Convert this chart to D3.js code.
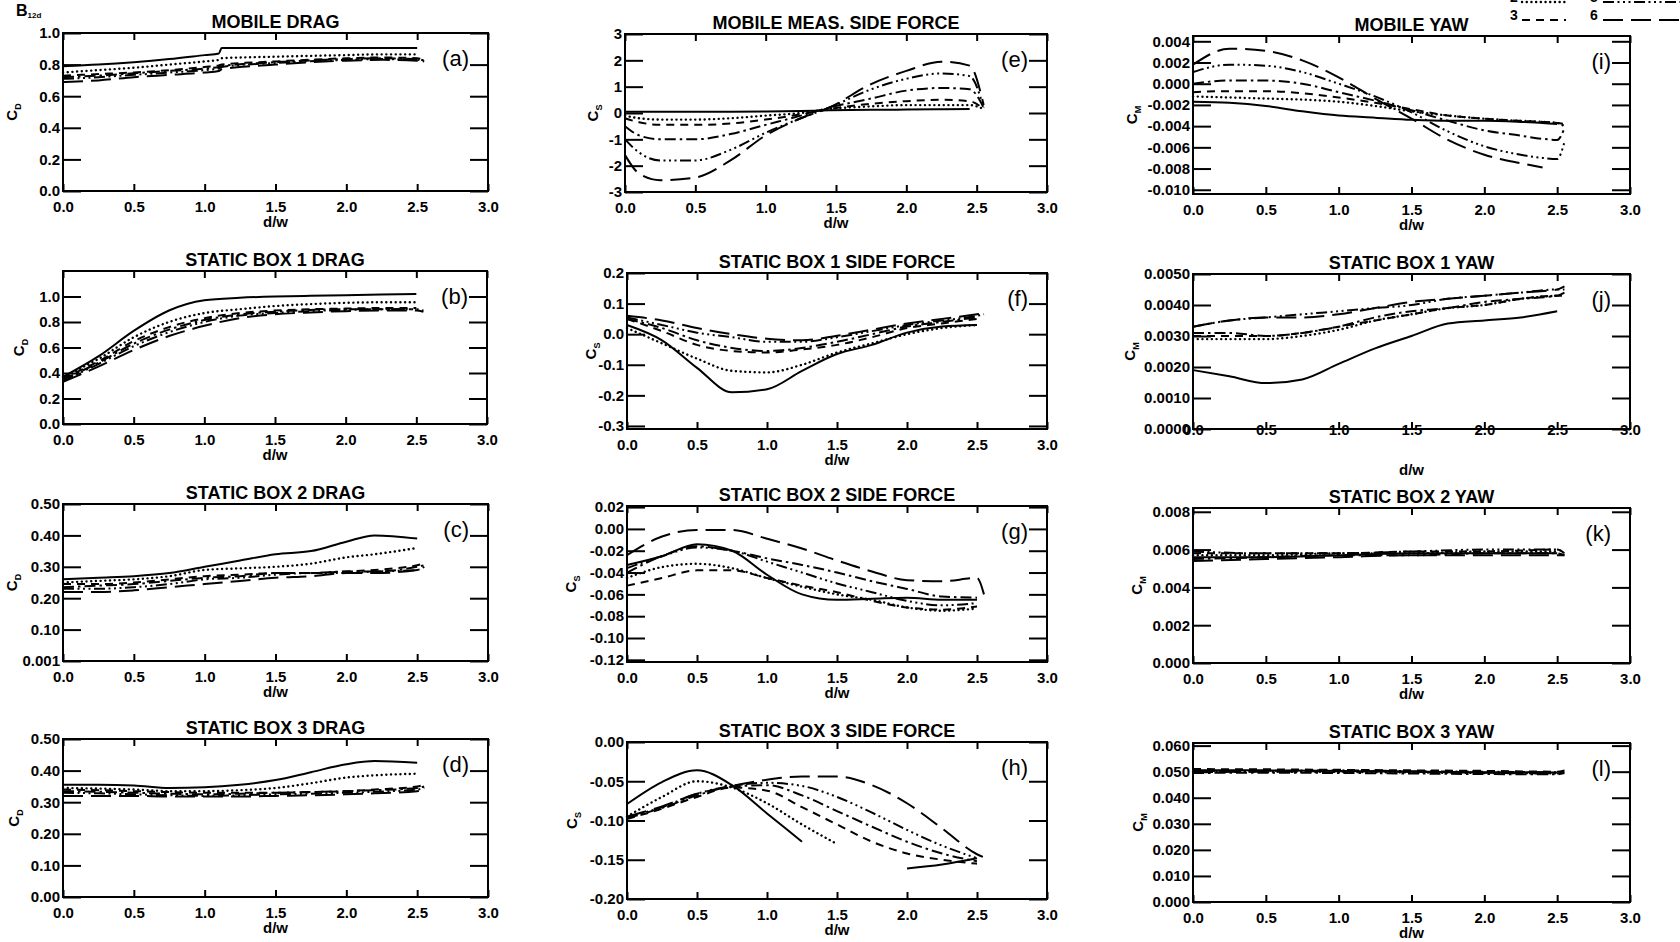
<!DOCTYPE html>
<html><head><meta charset="utf-8">
<script src="https://cdn.jsdelivr.net/npm/d3@7"></script>
<style>
body{margin:0;background:#fff}
svg{display:block}
text{font-family:"Liberation Sans",Arial,Helvetica,sans-serif;fill:#000}
</style>
</head><body>
<svg id="c" width="1680" height="942"></svg>
<script>
// ---------------- DATA ----------------
const dwTicks  = [0, 0.5, 1.0, 1.5, 2.0, 2.5, 3.0];
const dwLabels = ["0.0","0.5","1.0","1.5","2.0","2.5","3.0"];
const seriesNames = ["1","2","3","4","5","6"];

// (a) MOBILE DRAG
const mobileDragX = [0,0.25,0.5,0.75,1.0,1.1,1.12,1.5,2.0,2.25,2.5,2.55];
const mobileDrag = [
  [0.79,0.80,0.815,0.835,0.86,0.87,0.905,0.905,0.905,0.905,0.905,null],
  [0.75,0.765,0.78,0.80,0.82,0.83,0.84,0.85,0.86,0.865,0.865,null],
  [0.73,0.74,0.75,0.765,0.785,0.795,0.80,0.82,0.84,0.845,0.84,0.83],
  [0.72,0.73,0.745,0.76,0.775,0.785,0.79,0.815,0.835,0.84,0.835,0.825],
  [0.71,0.72,0.735,0.75,0.765,0.775,0.785,0.81,0.83,0.835,0.83,0.82],
  [0.69,0.70,0.72,0.735,0.75,0.76,0.77,0.80,0.825,0.83,0.825,0.815]
];
const mobileDragTicks  = [0,0.2,0.4,0.6,0.8,1.0];
const mobileDragLabels = ["0.0","0.2","0.4","0.6","0.8","1.0"];

// (e) MOBILE MEAS. SIDE FORCE
const mobileSideX = [0,0.1,0.25,0.5,0.75,1.0,1.25,1.45,1.75,2.0,2.25,2.45,2.55];
const mobileSide = [
  [0.05,0.05,0.05,0.05,0.05,0.06,0.08,0.1,0.12,0.13,0.14,0.15,null],
  [-0.1,-0.2,-0.25,-0.25,-0.2,-0.1,0.0,0.15,0.25,0.3,0.3,0.3,0.15],
  [-0.2,-0.35,-0.45,-0.45,-0.4,-0.25,-0.05,0.15,0.35,0.45,0.5,0.45,0.15],
  [-0.5,-0.85,-1.0,-1.0,-0.8,-0.45,-0.1,0.2,0.55,0.85,0.95,0.9,0.2],
  [-1.0,-1.5,-1.8,-1.8,-1.4,-0.75,-0.2,0.2,0.9,1.3,1.5,1.4,0.2],
  [-1.6,-2.3,-2.55,-2.45,-1.8,-0.85,-0.2,0.2,1.1,1.6,1.95,1.8,0.3]
];
const mobileSideTicks  = [-3,-2,-1,0,1,2,3];
const mobileSideLabels = ["-3","-2","-1","0","1","2","3"];

// (i) MOBILE YAW
const mobileYawX = [0,0.25,0.5,0.75,1.0,1.25,1.5,1.75,2.0,2.25,2.4,2.5,2.55];
const mobileYaw = [
  [-0.0017,-0.0018,-0.0021,-0.0026,-0.003,-0.0032,-0.0034,-0.0035,-0.0035,-0.0036,-0.0037,-0.0038,null],
  [-0.0012,-0.0013,-0.0014,-0.0015,-0.0017,-0.0021,-0.0026,-0.003,-0.0033,-0.0035,-0.0036,-0.0037,-0.004],
  [-0.0008,-0.0007,-0.0007,-0.0009,-0.0013,-0.0018,-0.0024,-0.003,-0.0033,-0.0035,-0.0036,-0.0037,-0.0038],
  [0.0,0.0003,0.0003,0.0,-0.0008,-0.0016,-0.0025,-0.0035,-0.0044,-0.0049,-0.0052,-0.0053,-0.0042],
  [0.0011,0.0018,0.0017,0.0011,0.0,-0.0012,-0.0027,-0.0045,-0.0059,-0.0067,-0.007,-0.0071,-0.0055],
  [0.0018,0.0033,0.0031,0.0022,0.0006,-0.0014,-0.0033,-0.0053,-0.0067,-0.0075,-0.0079,null,null]
];
const mobileYawTicks  = [-0.010,-0.008,-0.006,-0.004,-0.002,0,0.002,0.004];
const mobileYawLabels = ["-0.010","-0.008","-0.006","-0.004","-0.002","0.000","0.002","0.004"];

// (b) STATIC BOX 1 DRAG
const box1DragX = [0,0.25,0.5,0.75,1.0,1.25,1.5,1.75,2.0,2.25,2.5,2.55];
const box1Drag = [
  [0.37,0.53,0.73,0.89,0.97,0.99,1.0,1.005,1.01,1.015,1.02,null],
  [0.37,0.51,0.68,0.80,0.87,0.90,0.925,0.94,0.95,0.955,0.955,null],
  [0.36,0.49,0.65,0.76,0.83,0.87,0.89,0.90,0.905,0.91,0.91,null],
  [0.35,0.48,0.63,0.74,0.815,0.86,0.88,0.895,0.9,0.9,0.9,null],
  [0.34,0.47,0.61,0.72,0.80,0.85,0.87,0.885,0.895,0.9,0.9,0.89],
  [0.33,0.45,0.58,0.69,0.77,0.83,0.86,0.875,0.885,0.89,0.89,0.88]
];
const box1DragTicks  = [0,0.2,0.4,0.6,0.8,1.0];
const box1DragLabels = ["0.0","0.2","0.4","0.6","0.8","1.0"];

// (f) STATIC BOX 1 SIDE FORCE
const box1SideX = [0,0.25,0.5,0.75,1.0,1.25,1.5,1.75,2.0,2.25,2.5,2.55];
const box1Side = [
  [0.03,-0.02,-0.11,-0.19,-0.18,-0.12,-0.065,-0.035,0.005,0.025,0.03,null],
  [0.02,-0.03,-0.08,-0.12,-0.125,-0.1,-0.06,-0.03,0.0,0.02,0.03,null],
  [0.05,0.01,-0.035,-0.055,-0.06,-0.05,-0.035,-0.01,0.02,0.035,0.05,null],
  [0.05,0.02,-0.02,-0.045,-0.055,-0.045,-0.025,0.0,0.025,0.04,0.055,null],
  [0.055,0.03,0.005,-0.01,-0.025,-0.025,-0.01,0.01,0.03,0.045,0.06,0.065],
  [0.06,0.045,0.02,0.0,-0.015,-0.02,-0.005,0.015,0.035,0.05,0.065,0.068]
];
const box1SideTicks  = [-0.3,-0.2,-0.1,0,0.1,0.2];
const box1SideLabels = ["-0.3","-0.2","-0.1","0.0","0.1","0.2"];

// (j) STATIC BOX 1 YAW
const box1YawX = [0,0.25,0.5,0.75,1.0,1.25,1.5,1.75,2.0,2.25,2.5,2.55];
const box1Yaw = [
  [0.0019,0.0017,0.00148,0.0016,0.0021,0.0026,0.003,0.0034,0.0035,0.0036,0.0038,null],
  [0.0029,0.0029,0.0029,0.003,0.0032,0.0035,0.0037,0.0039,0.004,0.0042,0.0043,null],
  [0.003,0.003,0.003,0.0031,0.0033,0.0035,0.0037,0.0039,0.004,0.0042,0.0043,0.0043],
  [0.0031,0.0031,0.003,0.0031,0.0033,0.0036,0.0038,0.0039,0.0041,0.0042,0.0043,0.0044],
  [0.0033,0.0035,0.0036,0.0037,0.0038,0.0039,0.004,0.0042,0.0043,0.0044,0.0045,0.0045],
  [0.0033,0.0035,0.0036,0.0036,0.0037,0.0039,0.0041,0.0042,0.0043,0.0044,0.0045,0.0046]
];
const box1YawTicks  = [0,0.001,0.002,0.003,0.004,0.005];
const box1YawLabels = ["0.0000","0.0010","0.0020","0.0030","0.0040","0.0050"];

// (c) STATIC BOX 2 DRAG
const box2DragX = [0,0.25,0.5,0.75,1.0,1.25,1.5,1.75,2.0,2.2,2.5,2.55];
const box2Drag = [
  [0.26,0.265,0.27,0.28,0.30,0.32,0.34,0.35,0.38,0.40,0.39,null],
  [0.25,0.255,0.26,0.27,0.29,0.295,0.30,0.31,0.33,0.34,0.36,null],
  [0.245,0.245,0.25,0.26,0.27,0.275,0.28,0.28,0.285,0.29,0.305,0.31],
  [0.235,0.24,0.245,0.255,0.265,0.27,0.28,0.28,0.285,0.285,0.30,0.305],
  [0.23,0.23,0.235,0.245,0.26,0.265,0.275,0.28,0.28,0.285,0.29,0.3],
  [0.22,0.22,0.225,0.235,0.245,0.255,0.265,0.27,0.28,0.28,0.29,0.30]
];
const box2DragTicks  = [0,0.1,0.2,0.3,0.4,0.5];
const box2DragLabels = ["0.001","0.10","0.20","0.30","0.40","0.50"];

// (g) STATIC BOX 2 SIDE FORCE
const box2SideX = [0,0.25,0.5,0.75,1.0,1.25,1.5,1.75,2.0,2.25,2.5,2.55];
const box2Side = [
  [-0.033,-0.025,-0.014,-0.02,-0.042,-0.06,-0.065,-0.064,-0.063,-0.065,-0.065,null],
  [-0.045,-0.035,-0.032,-0.036,-0.045,-0.053,-0.06,-0.065,-0.072,-0.075,-0.073,null],
  [-0.052,-0.045,-0.038,-0.038,-0.045,-0.052,-0.058,-0.066,-0.072,-0.074,-0.071,null],
  [-0.04,-0.025,-0.016,-0.02,-0.027,-0.033,-0.04,-0.048,-0.055,-0.062,-0.063,null],
  [-0.036,-0.025,-0.017,-0.02,-0.03,-0.04,-0.05,-0.058,-0.066,-0.07,-0.068,null],
  [-0.024,-0.007,-0.001,-0.001,-0.009,-0.018,-0.029,-0.039,-0.047,-0.048,-0.045,-0.06]
];
const box2SideTicks  = [-0.12,-0.10,-0.08,-0.06,-0.04,-0.02,0,0.02];
const box2SideLabels = ["-0.12","-0.10","-0.08","-0.06","-0.04","-0.02","0.00","0.02"];

// (k) STATIC BOX 2 YAW
const box2YawX = [0,0.5,1.0,1.5,2.0,2.5,2.55];
const box2Yaw = [
  [0.0056,0.0056,0.0057,0.0058,0.0058,0.0058,null],
  [0.0057,0.0057,0.0058,0.0058,0.0059,0.0059,null],
  [0.0058,0.0058,0.0058,0.0059,0.0059,0.0060,0.0058],
  [0.0055,0.0056,0.0057,0.0057,0.0058,0.0058,0.0057],
  [0.0059,0.0058,0.0058,0.0059,0.006,0.006,0.0058],
  [0.0054,0.0055,0.0056,0.0057,0.0057,0.0057,0.0057]
];
const box2YawTicks  = [0,0.002,0.004,0.006,0.008];
const box2YawLabels = ["0.000","0.002","0.004","0.006","0.008"];

// (d) STATIC BOX 3 DRAG
const box3DragX = [0,0.25,0.5,0.75,1.0,1.25,1.5,1.75,2.0,2.2,2.5,2.55];
const box3Drag = [
  [0.355,0.355,0.353,0.345,0.347,0.355,0.37,0.395,0.42,0.43,0.425,null],
  [0.345,0.343,0.34,0.335,0.335,0.338,0.345,0.36,0.378,0.385,0.39,null],
  [0.34,0.338,0.335,0.332,0.33,0.33,0.33,0.332,0.335,0.34,0.35,0.355],
  [0.335,0.333,0.33,0.327,0.325,0.327,0.33,0.332,0.335,0.338,0.345,0.35],
  [0.33,0.328,0.325,0.322,0.32,0.322,0.325,0.327,0.33,0.333,0.34,0.345],
  [0.32,0.32,0.32,0.318,0.318,0.318,0.32,0.322,0.325,0.328,0.335,0.345]
];
const box3DragTicks  = [0,0.1,0.2,0.3,0.4,0.5];
const box3DragLabels = ["0.00","0.10","0.20","0.30","0.40","0.50"];

// (h) STATIC BOX 3 SIDE FORCE
const box3SideX = [0,0.25,0.5,0.75,1.0,1.25,1.5,1.75,2.0,2.25,2.5,2.55];
const box3Side = [
  [-0.079,-0.051,-0.036,-0.055,-0.091,-0.127,null,null,-0.161,-0.156,-0.148,null],
  [-0.095,-0.07,-0.05,-0.058,-0.078,-0.105,-0.13,null,null,null,null,null],
  [-0.098,-0.085,-0.07,-0.058,-0.062,-0.083,-0.105,-0.127,-0.142,-0.15,-0.155,null],
  [-0.097,-0.084,-0.068,-0.057,-0.055,-0.068,-0.088,-0.108,-0.127,-0.142,-0.152,null],
  [-0.096,-0.083,-0.066,-0.056,-0.052,-0.056,-0.07,-0.09,-0.112,-0.132,-0.148,null],
  [-0.095,-0.082,-0.066,-0.056,-0.048,-0.044,-0.044,-0.055,-0.078,-0.11,-0.143,-0.147]
];
const box3SideTicks  = [-0.2,-0.15,-0.1,-0.05,0];
const box3SideLabels = ["-0.20","-0.15","-0.10","-0.05","0.00"];

// (l) STATIC BOX 3 YAW
const box3YawX = [0,0.5,1.0,1.5,2.0,2.5,2.55];
const box3Yaw = [
  [0.0505,0.0505,0.0503,0.0500,0.0498,0.0497,null],
  [0.0500,0.0500,0.0499,0.0497,0.0495,0.0494,null],
  [0.0510,0.0509,0.0507,0.0505,0.0503,0.0500,0.0505],
  [0.0495,0.0496,0.0495,0.0493,0.0491,0.0490,0.0495],
  [0.0502,0.0503,0.0505,0.0502,0.0500,0.0498,0.0502],
  [0.0498,0.0500,0.0502,0.0500,0.0496,0.0493,0.0500]
];
const box3YawTicks  = [0,0.01,0.02,0.03,0.04,0.05,0.06];
const box3YawLabels = ["0.000","0.010","0.020","0.030","0.040","0.050","0.060"];

// ---------------- LAYOUT / STYLE ----------------
const dashes = [null, "0.1,4.6", "8,6", "11,4,2.5,4", "11,3.5,2,3.5,2,3.5,2,3.5", "20,8"];

const panels = [
  {title:"MOBILE DRAG", tag:"(a)", q:"D", x:mobileDragX, ys:mobileDrag, dom:[0,1], yt:mobileDragTicks, yl:mobileDragLabels, box:[63,488,33,191], lx:17},
  {title:"MOBILE MEAS. SIDE FORCE", tag:"(e)", q:"S", x:mobileSideX, ys:mobileSide, dom:[-3,3], yt:mobileSideTicks, yl:mobileSideLabels, box:[625,1047,34,192], lx:598},
  {title:"MOBILE YAW", tag:"(i)", q:"M", x:mobileYawX, ys:mobileYaw, dom:[-0.0104,0.0045], yt:mobileYawTicks, yl:mobileYawLabels, box:[1193,1630,36,194], lx:1137},
  {title:"STATIC BOX 1 DRAG", tag:"(b)", q:"D", x:box1DragX, ys:box1Drag, dom:[0,1.2], yt:box1DragTicks, yl:box1DragLabels, box:[63,487,271,424], lx:24},
  {title:"STATIC BOX 1 SIDE FORCE", tag:"(f)", q:"S", x:box1SideX, ys:box1Side, dom:[-0.31,0.2], yt:box1SideTicks, yl:box1SideLabels, box:[627,1047,273,429], lx:596},
  {title:"STATIC BOX 1 YAW", tag:"(j)", q:"M", x:box1YawX, ys:box1Yaw, dom:[0,0.005], yt:box1YawTicks, yl:box1YawLabels, box:[1193,1630,274,429], lx:1135, onAxis:true},
  {title:"STATIC BOX 2 DRAG", tag:"(c)", q:"D", x:box2DragX, ys:box2Drag, dom:[0,0.5], yt:box2DragTicks, yl:box2DragLabels, box:[63,488,504,661], lx:17},
  {title:"STATIC BOX 2 SIDE FORCE", tag:"(g)", q:"S", x:box2SideX, ys:box2Side, dom:[-0.122,0.021], yt:box2SideTicks, yl:box2SideLabels, box:[627,1047,506,662], lx:576},
  {title:"STATIC BOX 2 YAW", tag:"(k)", q:"M", x:box2YawX, ys:box2Yaw, dom:[0,0.0082], yt:box2YawTicks, yl:box2YawLabels, box:[1193,1630,508,663], lx:1142},
  {title:"STATIC BOX 3 DRAG", tag:"(d)", q:"D", x:box3DragX, ys:box3Drag, dom:[0,0.5], yt:box3DragTicks, yl:box3DragLabels, box:[63,488,739,897], lx:19},
  {title:"STATIC BOX 3 SIDE FORCE", tag:"(h)", q:"S", x:box3SideX, ys:box3Side, dom:[-0.2,0], yt:box3SideTicks, yl:box3SideLabels, box:[627,1047,742,899], lx:577},
  {title:"STATIC BOX 3 YAW", tag:"(l)", q:"M", x:box3YawX, ys:box3Yaw, dom:[0,0.061], yt:box3YawTicks, yl:box3YawLabels, box:[1193,1630,743,902], lx:1143}
];

const svg = d3.select("#c");
const FONT = '"Liberation Sans",Arial,Helvetica,sans-serif';

function styleSeries(sel, si) {
  sel.attr("fill","none").attr("stroke","#000").attr("stroke-width", si===1 ? 2.4 : 2);
  if (dashes[si]) sel.attr("stroke-dasharray", dashes[si]);
  sel.attr("stroke-linecap", si===1 ? "round" : "butt");
}

panels.forEach(p => {
  const [L,R,T,B] = p.box;
  const xs = d3.scaleLinear().domain([0,3]).range([L,R]);
  const ys = d3.scaleLinear().domain(p.dom).range([B,T]);
  const g = svg.append("g");

  // data lines
  const line = d3.line()
    .defined(d => d[1] != null)
    .x(d => xs(d[0])).y(d => ys(d[1]))
    .curve(d3.curveMonotoneX);
  p.ys.forEach((arr, si) => {
    g.append("path")
      .datum(p.x.map((xv,i) => [xv, arr[i]]))
      .attr("d", line)
      .call(styleSeries, si);
  });

  // axes
  const ax = [
    g.append("g").attr("transform",`translate(${L},0)`).call(d3.axisLeft(ys).tickValues(p.yt).tickSize(-18).tickPadding(3).tickFormat((d,i)=>p.yl[i])),
    g.append("g").attr("transform",`translate(${R},0)`).call(d3.axisRight(ys).tickValues(p.yt).tickSize(-18).tickFormat("")),
    g.append("g").attr("transform",`translate(0,${B})`).call(d3.axisBottom(xs).tickValues(dwTicks).tickSize(-7).tickPadding(p.onAxis ? -5 : 10).tickFormat((d,i)=>dwLabels[i])),
    g.append("g").attr("transform",`translate(0,${T})`).call(d3.axisTop(xs).tickValues(dwTicks).tickSize(-7).tickFormat(""))
  ];
  ax.forEach(a => {
    a.select(".domain").remove();
    a.attr("font-size",null).attr("font-family",null);
    a.selectAll("line").attr("stroke","#000").attr("stroke-width",2);
    a.selectAll("text").attr("font-family",FONT).attr("font-size",15).attr("font-weight","bold").attr("fill","#000");
  });

  // frame
  g.append("rect").attr("x",L).attr("y",T).attr("width",R-L).attr("height",B-T)
    .attr("fill","none").attr("stroke","#000").attr("stroke-width",2);

  // title
  g.append("text").attr("x",(L+R)/2).attr("y",T-5).attr("text-anchor","middle")
    .attr("font-size",18).attr("font-weight","bold").text(p.title);

  // panel tag
  g.append("text").attr("x",R-19).attr("y",T+33).attr("text-anchor","end")
    .attr("font-size",22).text(p.tag);

  // x label
  g.append("text").attr("x",(L+R)/2).attr("y", p.onAxis ? B+46 : B+36).attr("text-anchor","middle")
    .attr("font-size",15).attr("font-weight","bold").text("d/w");

  // y label
  const yl = g.append("text").attr("transform",`translate(${p.lx},${(T+B)/2}) rotate(-90)`)
    .attr("text-anchor","middle").attr("font-size",15).attr("font-weight","bold");
  yl.append("tspan").text("C");
  yl.append("tspan").attr("font-size",9).attr("dy",4).text(p.q);
});

// B12d corner label
const bl = svg.append("text").attr("x",16).attr("y",16).attr("font-size",16).attr("font-weight","bold");
bl.append("tspan").text("B");
bl.append("tspan").attr("font-size",8).attr("dy",2).text("12d");

// legend (top right, partly off-canvas as in the reference)
const legendRows = [[0,3],[1,4],[2,5]];
const legendY = [-16, 2, 20];
legendRows.forEach((row, r) => {
  row.forEach((si, c) => {
    const nx = c === 0 ? 1510 : 1590;
    const lx0 = c === 0 ? 1522 : 1603;
    const lx1 = c === 0 ? 1566 : 1680;
    svg.append("text").attr("x",nx).attr("y",legendY[r]).attr("font-size",14).attr("font-weight","bold").text(seriesNames[si]);
    svg.append("line").attr("x1",lx0).attr("x2",lx1).attr("y1",legendY[r]).attr("y2",legendY[r]).call(styleSeries, si);
  });
});
</script>
</body></html>
